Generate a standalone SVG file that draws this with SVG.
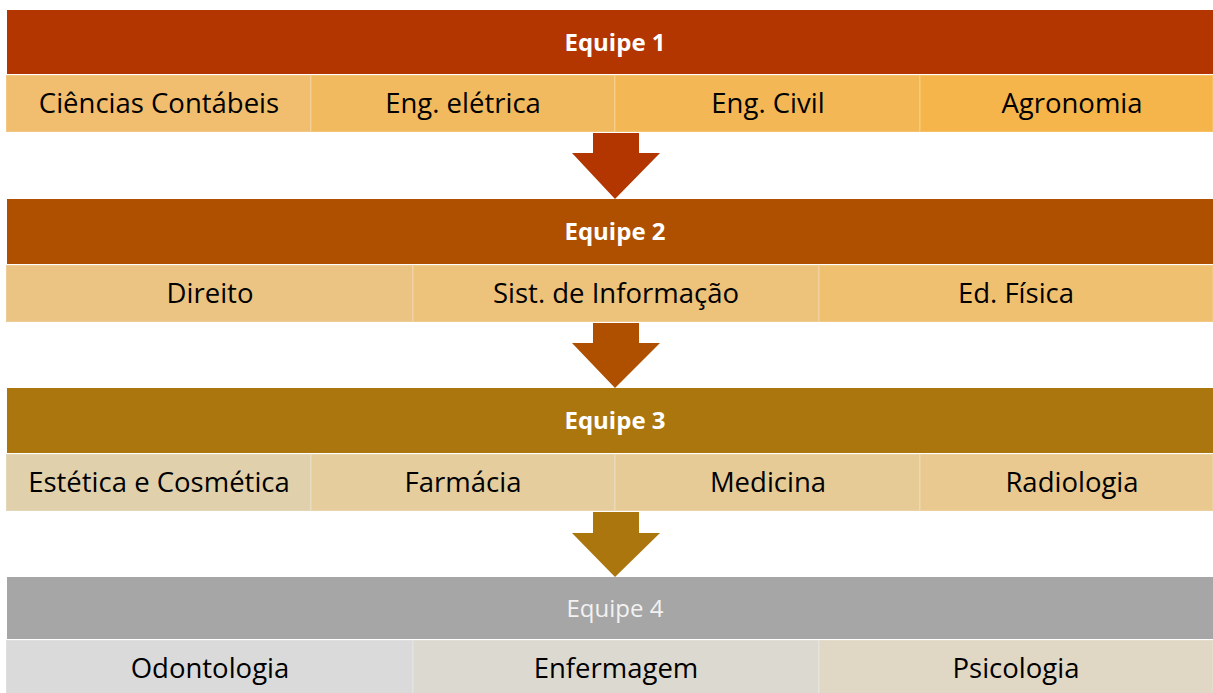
<svg xmlns="http://www.w3.org/2000/svg" width="1213" height="693" viewBox="0 0 1213 693">
<style>
.hd{font-family:"Open Sans","Liberation Sans",sans-serif;font-size:24px;font-weight:bold;fill:#fff;text-anchor:middle}
.hd4{font-family:"Open Sans","Liberation Sans",sans-serif;font-size:24px;fill:#F2F2F2;text-anchor:middle}
.ct{font-family:"Open Sans","Liberation Sans",sans-serif;font-size:27.5px;fill:#000;text-anchor:middle}
.cell{stroke:#fff;stroke-opacity:0.15;stroke-width:2}
</style>
<rect width="1213" height="693" fill="#fff"/>
<g id="equipe1">
<rect x="7" y="10" width="1206" height="64" fill="#B33500"/>
<text class="hd" x="615" y="51">Equipe 1</text>
<rect class="cell" x="6" y="75" width="305" height="57" fill="#F0BE6E"/>
<rect class="cell" x="311" y="75" width="304" height="57" fill="#F2BA5E"/>
<rect class="cell" x="615" y="75" width="305" height="57" fill="#F3B855"/>
<rect class="cell" x="920" y="75" width="293" height="57" fill="#F5B54A"/>
<text class="ct" x="159" y="113">Ciências Contábeis</text>
<text class="ct" x="463" y="113">Eng. elétrica</text>
<text class="ct" x="768" y="113">Eng. Civil</text>
<text class="ct" x="1072" y="113">Agronomia</text>
</g>
<g id="equipe2">
<rect x="7" y="199" width="1206" height="65" fill="#AE5000"/>
<text class="hd" x="615" y="240">Equipe 2</text>
<rect class="cell" x="6" y="265" width="407" height="57" fill="#EBC483"/>
<rect class="cell" x="413" y="265" width="406" height="57" fill="#EDC27A"/>
<rect class="cell" x="819" y="265" width="394" height="57" fill="#EFC070"/>
<text class="ct" x="210" y="303">Direito</text>
<text class="ct" x="616" y="303">Sist. de Informação</text>
<text class="ct" x="1016" y="303">Ed. Física</text>
</g>
<g id="equipe3">
<rect x="7" y="388" width="1206" height="65" fill="#AC760E"/>
<text class="hd" x="615" y="429">Equipe 3</text>
<rect class="cell" x="6" y="454" width="305" height="57" fill="#E0D1AC"/>
<rect class="cell" x="311" y="454" width="304" height="57" fill="#E5CD9E"/>
<rect class="cell" x="615" y="454" width="305" height="57" fill="#E7CB96"/>
<rect class="cell" x="920" y="454" width="293" height="57" fill="#E9C98F"/>
<text class="ct" x="159" y="492">Estética e Cosmética</text>
<text class="ct" x="463" y="492">Farmácia</text>
<text class="ct" x="768" y="492">Medicina</text>
<text class="ct" x="1072" y="492">Radiologia</text>
</g>
<g id="equipe4">
<rect x="7" y="577" width="1206" height="62" fill="#A6A6A6"/>
<text class="hd4" x="615" y="617">Equipe 4</text>
<rect class="cell" x="6" y="640" width="407" height="54" fill="#DADADA"/>
<rect class="cell" x="413" y="640" width="406" height="54" fill="#DCD9D0"/>
<rect class="cell" x="819" y="640" width="394" height="54" fill="#E0D7C4"/>
<text class="ct" x="210" y="678">Odontologia</text>
<text class="ct" x="616" y="678">Enfermagem</text>
<text class="ct" x="1016" y="678">Psicologia</text>
</g>
<g id="connectors">
<polygon points="593,133 639,133 639,153 660,153 615,199 572,153 593,153" fill="#B33500"/>
<polygon points="593,323 639,323 639,343 660,343 615,388 572,343 593,343" fill="#AE5000"/>
<polygon points="593,512 639,512 639,533 660,533 615,577 572,533 593,533" fill="#AC760E"/>
</g>
</svg>
